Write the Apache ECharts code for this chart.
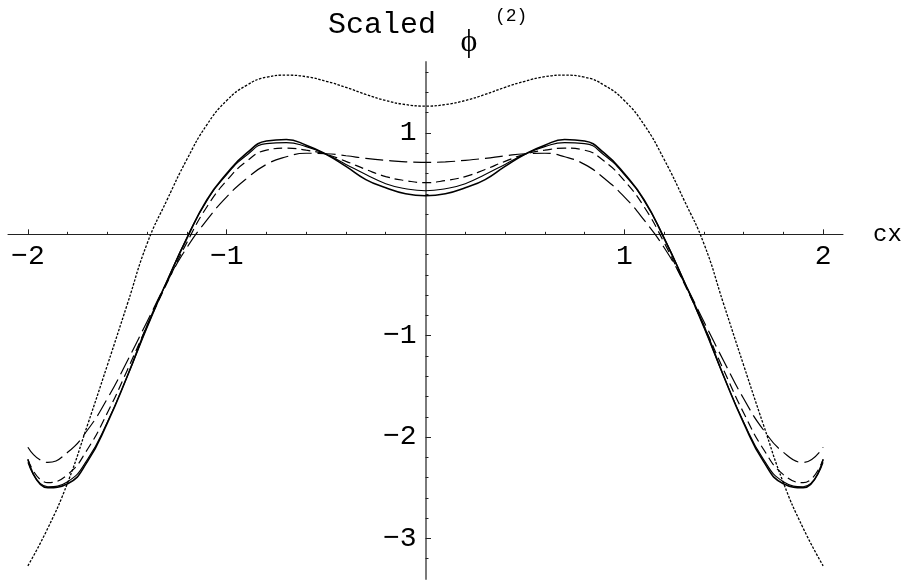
<!DOCTYPE html>
<html>
<head>
<meta charset="utf-8">
<script src="https://cdn.jsdelivr.net/npm/echarts@6/dist/echarts.min.js"></script>
<style>
html,body{margin:0;padding:0;background:#fff;}
#chart{width:908px;height:581px;}
</style>
</head>
<body>
<div id="chart"></div>
<script>
// sample points along cx
var cxValues = [-2.0,-1.9,-1.8,-1.7,-1.6,-1.5,-1.4,-1.3,-1.2,-1.1,-1.0,-0.9,-0.8,-0.7,-0.6,-0.5,-0.4,-0.3,-0.2,-0.1,0,
                0.1,0.2,0.3,0.4,0.5,0.6,0.7,0.8,0.9,1.0,1.1,1.2,1.3,1.4,1.5,1.6,1.7,1.8,1.9,2.0];

// curves
var dottedCurve = [-3.27,-2.9,-2.45,-1.88,-1.29,-0.69,-0.09,0.34,0.74,1.08,1.32,1.47,1.55,1.57,1.555,1.51,1.45,1.38,1.32,1.28,1.265,
                   1.28,1.32,1.38,1.45,1.51,1.555,1.57,1.55,1.47,1.32,1.08,0.74,0.34,-0.09,-0.69,-1.29,-1.88,-2.45,-2.9,-3.27];
var longDashCurve = [-2.10,-2.25,-2.15,-1.93,-1.62,-1.25,-0.86,-0.47,-0.13,0.14,0.37,0.55,0.69,0.765,0.80,0.795,0.775,0.75,0.73,0.715,0.71,
                     0.715,0.73,0.75,0.775,0.795,0.80,0.765,0.69,0.55,0.37,0.14,-0.13,-0.47,-0.86,-1.25,-1.62,-1.93,-2.15,-2.25,-2.10];
var dashCurve = [-2.22,-2.45,-2.37,-2.12,-1.76,-1.34,-0.90,-0.48,-0.08,0.27,0.53,0.72,0.83,0.85,0.83,0.79,0.72,0.64,0.57,0.53,0.51,
                 0.53,0.57,0.64,0.72,0.79,0.83,0.85,0.83,0.72,0.53,0.27,-0.08,-0.48,-0.90,-1.34,-1.76,-2.12,-2.37,-2.45,-2.22];
var thinSolidCurve = [-2.25,-2.49,-2.44,-2.22,-1.85,-1.40,-0.92,-0.46,-0.03,0.33,0.59,0.78,0.895,0.905,0.865,0.79,0.69,0.59,0.50,0.45,0.43,
                      0.45,0.50,0.59,0.69,0.79,0.865,0.905,0.895,0.78,0.59,0.33,-0.03,-0.46,-0.92,-1.40,-1.85,-2.22,-2.44,-2.49,-2.25];
var solidCurve = [-2.22,-2.50,-2.46,-2.24,-1.86,-1.40,-0.90,-0.46,-0.04,0.34,0.60,0.80,0.92,0.935,0.88,0.79,0.67,0.54,0.46,0.40,0.38,
                  0.40,0.46,0.54,0.67,0.79,0.88,0.935,0.92,0.80,0.60,0.34,-0.04,-0.46,-0.90,-1.40,-1.86,-2.24,-2.46,-2.50,-2.22];

// ticks and labels
var xLabels = [-2,-1,1,2];
var xMajorTicks = [-2,-1,1,2];
var xMinorTicks = [-1.8,-1.6,-1.4,-1.2,-0.8,-0.6,-0.4,-0.2,0.2,0.4,0.6,0.8,1.2,1.4,1.6,1.8];
var yLabels = [-3,-2,-1,1];
var yMajorTicks = [-3,-2,-1,1];
var yMinorTicks = [-3.2,-2.8,-2.6,-2.4,-2.2,-1.8,-1.6,-1.4,-1.2,-0.8,-0.6,-0.4,-0.2,0.2,0.4,0.6,0.8,1.2,1.4,1.6];

var xMin = -2.1, xMax = 2.1, yMin = -3.4, yMax = 1.7;
var W = 908, H = 581;
var gLeft = 8, gRight = 65, gTop = 62, gBottom = 2;
// where the axes cross (v6 keeps labels at the grid edge, so helper grids carry them)
var zeroX = gLeft + (0 - xMin) / (xMax - xMin) * (W - gLeft - gRight);
var zeroY = gTop + (yMax - 0) / (yMax - yMin) * (H - gTop - gBottom);

function pairs(ys) {
  var out = [];
  for (var i = 0; i < cxValues.length; i++) out.push([cxValues[i], ys[i]]);
  return out;
}
// only label the listed values, with a real minus sign
function labelFor(list) {
  return function (v) {
    var r = Math.round(v * 10) / 10;
    if (list.indexOf(r) < 0) return '';
    return (r < 0 ? '\u2212' : '') + Math.abs(r);
  };
}

var axisColor = '#222';
var mono = '"Liberation Mono", "Courier New", monospace';

var chart = echarts.init(document.getElementById('chart'));

function curve(ys, type, width) {
  return {
    type: 'line',
    data: pairs(ys),
    xAxisIndex: 0,
    yAxisIndex: 0,
    showSymbol: false,
    symbol: 'none',
    smooth: true,
    silent: true,
    lineStyle: { color: '#000', width: width, type: type }
  };
}

var option = {
  animation: false,
  backgroundColor: '#fff',
  grid: [
    { left: gLeft, right: gRight, top: gTop, bottom: gBottom, containLabel: false, outerBoundsMode: 'none' },
    { left: gLeft, right: gRight, top: gTop, bottom: H - zeroY, containLabel: false, outerBoundsMode: 'none' },
    { left: zeroX, right: gRight, top: gTop, bottom: gBottom, containLabel: false, outerBoundsMode: 'none' }
  ],
  xAxis: [
    {
      gridIndex: 0, type: 'value', min: xMin, max: xMax,
      axisLine: { onZero: true, lineStyle: { color: axisColor, width: 1 } },
      axisTick: { inside: true, length: 2.5, customValues: xMinorTicks, lineStyle: { color: axisColor } },
      axisLabel: { show: false },
      splitLine: { show: false },
      name: 'cx', nameLocation: 'end', nameGap: 30,
      nameTextStyle: { color: '#000', fontFamily: mono, fontSize: 24 }
    },
    {
      gridIndex: 1, type: 'value', min: xMin, max: xMax, interval: 0.1, position: 'bottom',
      axisLine: { show: false, onZero: false },
      axisTick: { inside: true, length: 5, customValues: xMajorTicks, lineStyle: { color: axisColor } },
      axisLabel: { formatter: labelFor(xLabels), margin: 8, color: '#000', fontFamily: mono, fontSize: 28 },
      splitLine: { show: false }
    },
    { gridIndex: 2, type: 'value', min: xMin, max: xMax, show: false }
  ],
  yAxis: [
    {
      gridIndex: 0, type: 'value', min: yMin, max: yMax,
      axisLine: { onZero: true, lineStyle: { color: '#7a7a7a', width: 2 } },
      axisTick: { inside: true, length: 3, customValues: yMinorTicks, lineStyle: { color: axisColor } },
      axisLabel: { show: false },
      splitLine: { show: false }
    },
    { gridIndex: 1, type: 'value', min: 0, max: yMax, show: false },
    {
      gridIndex: 2, type: 'value', min: yMin, max: yMax, interval: 0.1, position: 'left',
      axisLine: { show: false, onZero: false },
      axisTick: { inside: true, length: 5.5, customValues: yMajorTicks, lineStyle: { color: axisColor } },
      axisLabel: { formatter: labelFor(yLabels), margin: 9, color: '#000', fontFamily: mono, fontSize: 28 },
      splitLine: { show: false }
    }
  ],
  graphic: [
    { type: 'text', x: 328, y: 25, silent: true,
      style: { text: 'Scaled', fill: '#000', fontFamily: mono, fontSize: 30, align: 'left', verticalAlign: 'middle' } },
    { type: 'text', x: 469, y: 43, silent: true,
      style: { text: '\u03d5', fill: '#000', fontFamily: '"Liberation Serif", serif', fontSize: 32, align: 'center', verticalAlign: 'middle' } },
    { type: 'text', x: 495, y: 16, silent: true,
      style: { text: '(2)', fill: '#000', fontFamily: mono, fontSize: 18, align: 'left', verticalAlign: 'middle' } }
  ],
  series: [
    curve(dottedCurve, [2.5, 1.5], 1.3),
    curve(longDashCurve, [18, 6], 1.2),
    curve(dashCurve, [9, 5], 1.2),
    curve(thinSolidCurve, 'solid', 1.1),
    curve(solidCurve, 'solid', 1.6)
  ]
};

chart.setOption(option);
</script>
</body>
</html>
